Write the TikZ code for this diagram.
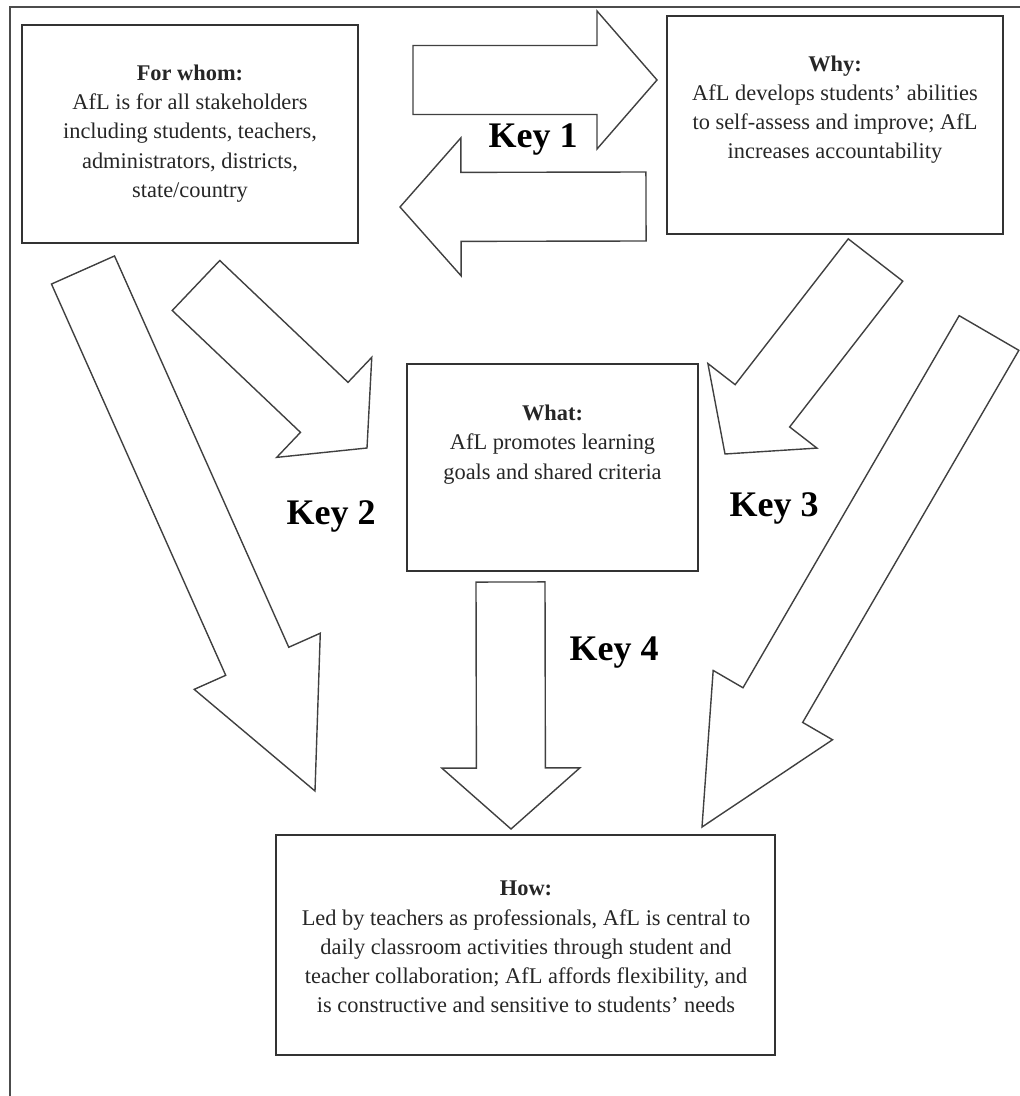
\documentclass[tikz,border=0pt]{standalone}
\usepackage{fontspec}
\setmainfont{Liberation Serif}
\usetikzlibrary{calc}

\tikzset{
  frame/.style={draw=black!70, line width=0.8pt},
  box/.style={draw=black!80, line width=0.9pt, inner sep=0pt},
  blockline/.style={draw=black!75, line width=0.7pt, line join=miter},
  note/.style={align=center, inner sep=0pt, text=black!85,
    font=\fontsize{11.2}{14.6}\selectfont},
  keylabel/.style={inner sep=0pt, font=\fontsize{18}{20}\selectfont\bfseries}
}

% block arrow: name, tail, tip, head length
\newcommand\blockarrow[4]{%
  \coordinate (#1h) at ($(#3)!#4!(#2)$);
  \draw[blockline] ($(#2)!17.25pt!90:(#3)$) -- ($(#1h)!17.25pt!-90:(#2)$)
    -- ($(#1h)!34.5pt!-90:(#2)$) -- (#3) -- ($(#1h)!34.5pt!90:(#2)$)
    -- ($(#1h)!17.25pt!90:(#2)$) -- ($(#2)!17.25pt!-90:(#3)$) -- cycle;
}

\begin{document}
\begin{tikzpicture}[x=0.5pt,y=-0.5pt]
  \useasboundingbox (0,0) rectangle (1020,1096);
  \draw[frame] (10,1096) -- (10,7) -- (1020,7);

  % boxes
  \node[box, minimum width=168pt, minimum height=109pt]   (whom) at (190,134)   {};
  \node[box, minimum width=168pt, minimum height=109pt]   (why)  at (835,125)   {};
  \node[box, minimum width=145.5pt, minimum height=103.5pt] (what) at (552.5,467.5) {};
  \node[box, minimum width=249.5pt, minimum height=110pt] (how)  at (525.5,945) {};

  \node[note] (whomtext) at (190,133.5) {\textbf{For whom:}\\AfL is for all stakeholders\\including students, teachers,\\administrators, districts,\\state/country};
  \node[note] (whytext) at (835,109.5) {\textbf{Why:}\\AfL develops students’ abilities\\to self-assess and improve; AfL\\increases accountability};
  \node[note] (whattext) at (552.5,444.5) {\textbf{What:}\\AfL promotes learning\\goals and shared criteria};
  \node[note] (howtext) at (526,947) {\textbf{How:}\\Led by teachers as professionals, AfL is central to\\daily classroom activities through student and\\teacher collaboration; AfL affords flexibility, and\\is constructive and sensitive to students’ needs};

  % arrow ends
  \coordinate (k1rs) at (413,80);    \coordinate (k1re) at (657,80);
  \coordinate (k1ls) at (646,206.5); \coordinate (k1le) at (400,207);
  \coordinate (k2as) at (83,270);    \coordinate (k2ae) at (315,791);
  \coordinate (k2bs) at (196,285.5); \coordinate (k2be) at (367,448);
  \coordinate (k3as) at (875.5,260); \coordinate (k3ae) at (725,454);
  \coordinate (k3bs) at (989,333);   \coordinate (k3be) at (702,827);
  \coordinate (k4s)  at (510.5,582); \coordinate (k4e)  at (511,829);

  \blockarrow{k1r}{k1rs}{k1re}{30pt}
  \blockarrow{k1l}{k1ls}{k1le}{30.5pt}
  \blockarrow{k2a}{k2as}{k2ae}{71pt}
  \blockarrow{k2b}{k2bs}{k2be}{29.5pt}
  \blockarrow{k3a}{k3as}{k3ae}{30.5pt}
  \blockarrow{k3b}{k3bs}{k3be}{70.5pt}
  \blockarrow{k4}{k4s}{k4e}{30.5pt}

  % labels
  \node[keylabel] (key1) at (533,140) {Key 1};
  \node[keylabel] (key2) at (331,516) {Key 2};
  \node[keylabel] (key3) at (774,508) {Key 3};
  \node[keylabel] (key4) at (614,653) {Key 4};
\end{tikzpicture}
\end{document}
